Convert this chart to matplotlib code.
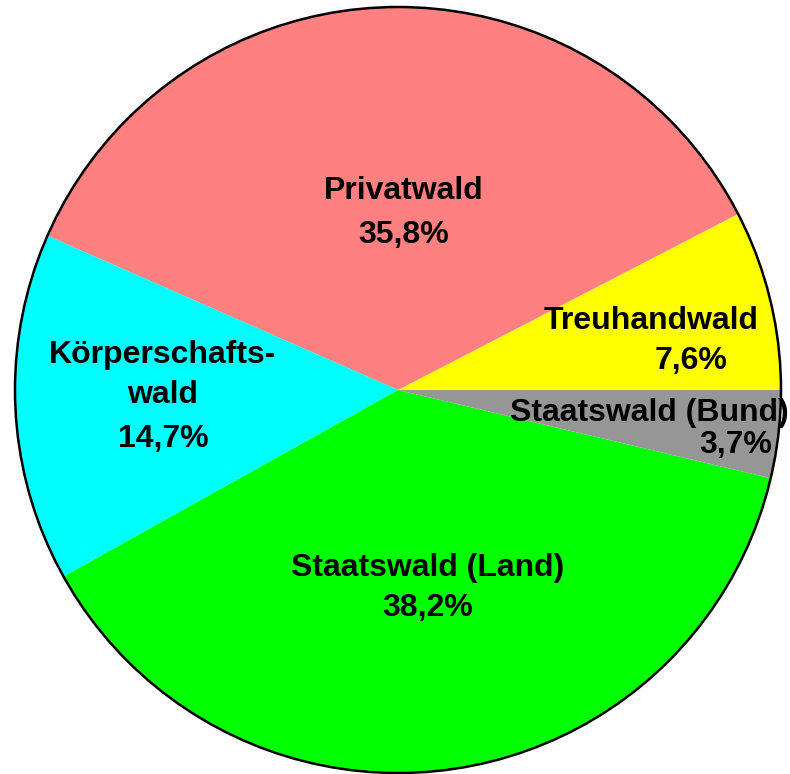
import matplotlib
matplotlib.use("Agg")
import matplotlib.pyplot as plt
from matplotlib.patches import Circle

categories = ["Treuhandwald", "Privatwald", "Körperschafts-\nwald", "Staatswald (Land)", "Staatswald (Bund)"]
values = [7.6, 35.8, 14.7, 38.2, 3.7]
colors = ["#FFFF00", "#FF8080", "#00FFFF", "#00FF00", "#969696"]
pct_labels = ["7,6%", "35,8%", "14,7%", "38,2%", "3,7%"]

W, H = 790, 774
fig = plt.figure(figsize=(W / 100, H / 100), dpi=100)
ax = fig.add_axes([0, 0, 1, 1])

cx, cy, r = 398, H - 390, 383
ax.pie(values, colors=colors, startangle=0, counterclock=True,
       center=(cx, cy), radius=r, wedgeprops=dict(linewidth=0), frame=True)
ax.set_xlim(0, W)
ax.set_ylim(0, H)
ax.set_aspect("equal")
ax.axis("off")
ax.add_patch(Circle((cx, cy), r, fill=False, edgecolor="black", linewidth=1.8, zorder=5))

font = dict(family="Liberation Sans", fontweight="bold", fontsize=23, ha="center", va="center", zorder=6)
# label positions (pixel coords, y from top); multi-line names are split into lines 40 px apart
name_pos = [(651, 321), (404, 191), (163, 355), (428, 568), (649, 413)]
pct_pos = [(691, 361), (404, 235), (163, 439), (428, 608), (736, 445)]
for name, pct, (nx, ny), (px, py) in zip(categories, pct_labels, name_pos, pct_pos):
    for i, line in enumerate(name.split("\n")):
        ax.text(nx, H - (ny + 40 * i), line, **font)
    ax.text(px, H - py, pct, **font)

fig.savefig("out.png", dpi=100)
